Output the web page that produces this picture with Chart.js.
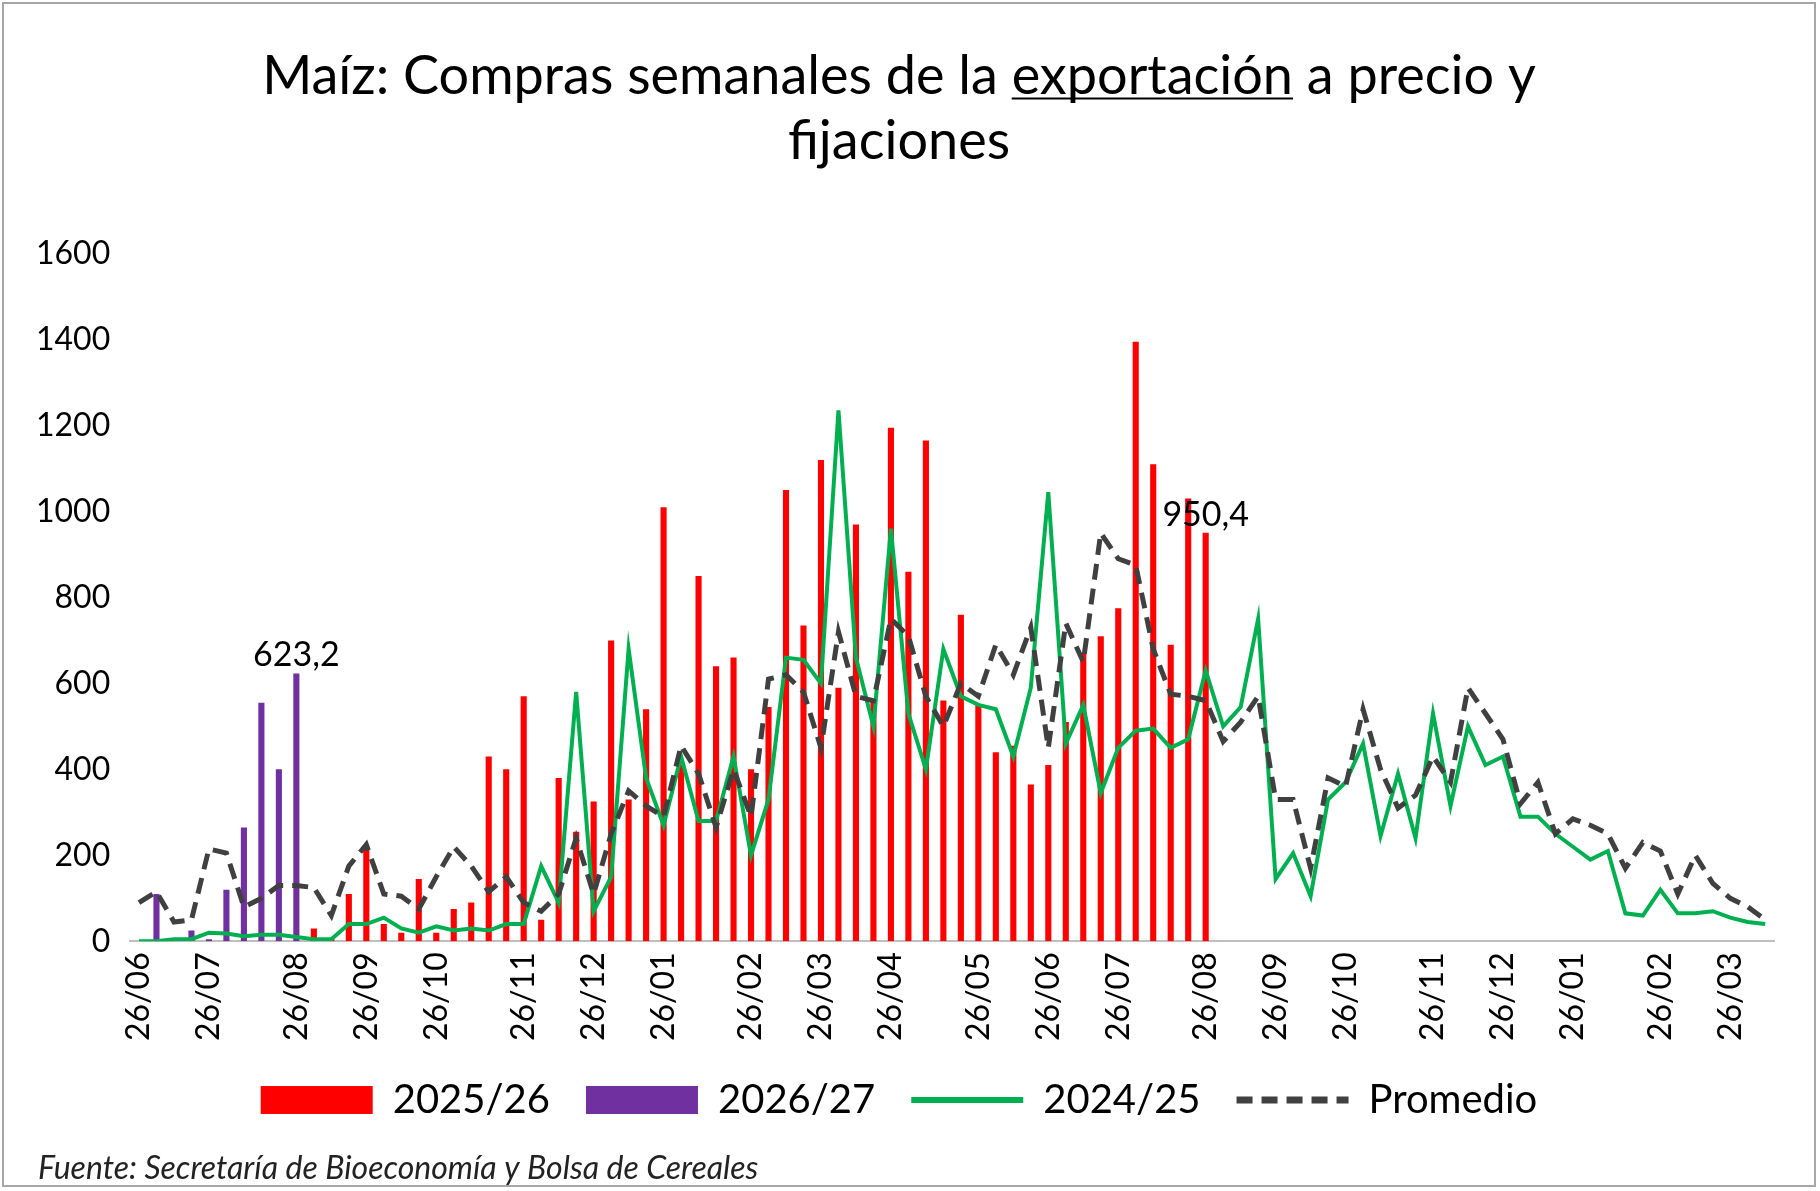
<!DOCTYPE html>
<html><head><meta charset="utf-8">
<script src="https://cdn.jsdelivr.net/npm/chart.js@4/dist/chart.umd.min.js"></script>
<style>
html,body{margin:0;padding:0;background:#fff;}
#wrap{position:absolute;left:2px;top:2px;width:1814px;height:1185px;border:2px solid #a6a6a6;box-sizing:border-box;}
</style></head>
<body>
<div id="wrap"><canvas id="c"></canvas></div>
<script>
// weekly categories, month labels only where Excel showed them
var monthLabels = {0:"26/06",4:"26/07",9:"26/08",13:"26/09",17:"26/10",22:"26/11",26:"26/12",30:"26/01",35:"26/02",39:"26/03",43:"26/04",48:"26/05",52:"26/06",56:"26/07",61:"26/08",65:"26/09",69:"26/10",74:"26/11",78:"26/12",82:"26/01",87:"26/02",91:"26/03"};
var labels = [];
for (var i = 0; i < 94; i++) labels.push(monthLabels[i] || "");

var red2526 = [null,null,null,null,null,null,null,null,null,null,
  30,5,110,220,40,20,145,20,75,90,430,400,570,50,380,255,325,700,330,540,
  1010,410,850,640,660,400,545,1050,735,1120,590,970,560,1195,860,1165,560,760,550,440,
  455,365,410,510,670,710,775,1395,1110,690,1030,950.4];
var purple2627 = [null,110,5,25,5,120,265,555,400,623.2];
var green2425 = [0,0,5,5,20,18,12,15,15,10,5,5,40,40,55,30,20,35,25,30,
  25,40,40,175,90,580,70,150,680,380,270,430,280,280,430,200,330,660,655,600,
  1235,660,500,960,530,400,680,570,550,540,430,590,1045,460,550,345,450,490,495,450,
  470,630,500,545,750,145,205,105,330,370,460,245,390,240,530,315,500,410,430,290,
  290,250,220,190,210,65,60,120,65,65,70,55,45,40];
var promedio = [90,115,45,50,215,205,80,100,130,130,125,60,175,225,110,105,75,150,220,175,
  115,150,90,70,110,240,110,250,350,315,290,455,390,265,400,290,610,620,580,450,
  720,570,560,750,710,570,500,600,570,690,620,730,450,740,650,950,890,875,680,575,
  570,560,465,510,570,330,330,170,380,360,540,400,310,340,430,370,590,530,470,320,
  370,250,285,270,250,170,230,210,110,200,135,100,80,50];

var font = "Lato, 'Noto Sans', sans-serif";

var extras = {
  id: "extras",
  afterDatasetsDraw: function(chart) {
    var ctx = chart.ctx;
    ctx.save();
    ctx.fillStyle = "#000";
    ctx.font = "34px " + font;
    ctx.textAlign = "center";
    var m0 = chart.getDatasetMeta(1).data[9];
    ctx.fillText("623,2", m0.x, m0.y - 18);
    var m1 = chart.getDatasetMeta(0).data[61];
    ctx.fillText("950,4", m1.x, m1.y - 18);
    ctx.restore();
  },
  afterDraw: function(chart) {
    var ctx = chart.ctx;
    ctx.save();
    ctx.fillStyle = "#222";
    ctx.font = "italic 32px " + font;
    ctx.textAlign = "left";
    ctx.fillText("Fuente: Secretaría de Bioeconomía y Bolsa de Cereales", 34, chart.height - 16);
    // underline "exportación" in the title's first line
    var t = chart.titleBlock;
    if (t) {
      ctx.font = "54px " + font;
      var line = "Maíz: Compras semanales de la exportación a precio y";
      var full = ctx.measureText(line).width;
      var pre = ctx.measureText("Maíz: Compras semanales de la ").width;
      var w = ctx.measureText("exportación").width;
      var cx = (t.left + t.right) / 2;
      var x0 = cx - full / 2 + pre;
      var y = t.top + 20 + 54 * 0.75 + 14;
      ctx.strokeStyle = "#000";
      ctx.lineWidth = 2;
      ctx.beginPath(); ctx.moveTo(x0, y); ctx.lineTo(x0 + w, y); ctx.stroke();
    }
    ctx.restore();
  }
};

new Chart(document.getElementById("c"), {
  type: "bar",
  data: {
    labels: labels,
    datasets: [
      { label: "2025/26", data: red2526, backgroundColor: "#ff0000", borderColor: "#ff0000", pointStyle: "rect",
        grouped: false, barPercentage: 0.35, categoryPercentage: 1, order: 3 },
      { label: "2026/27", data: purple2627, backgroundColor: "#7030a0", borderColor: "#7030a0", pointStyle: "rect",
        grouped: false, barPercentage: 0.35, categoryPercentage: 1, order: 4 },
      { type: "line", label: "2024/25", data: green2425, borderColor: "#00b050", backgroundColor: "#00b050",
        pointStyle: "line", borderWidth: 4, pointRadius: 0, tension: 0, order: 2 },
      { type: "line", label: "Promedio", data: promedio, borderColor: "#404040", backgroundColor: "#404040",
        pointStyle: "line", borderWidth: 5, borderDash: [16, 9], pointRadius: 0, tension: 0, order: 1 }
    ]
  },
  options: {
    responsive: true,
    maintainAspectRatio: false,
    animation: false,
    layout: { padding: { left: 20, right: 40, top: 20, bottom: 55 } },
    plugins: {
      title: { display: true, text: ["Maíz: Compras semanales de la exportación a precio y", "fijaciones"],
        color: "#000", font: { family: font, size: 54, weight: "normal" }, lineHeight: 1.5,
        padding: { top: 20, bottom: 80 } },
      legend: { position: "bottom",
        labels: { color: "#000", usePointStyle: true, pointStyleWidth: 112, boxHeight: 28,
          sort: function(a, b) { return a.datasetIndex - b.datasetIndex; },
          generateLabels: function(chart) {
            var items = Chart.defaults.plugins.legend.labels.generateLabels(chart);
            items.forEach(function(it) {
              if (it.datasetIndex === 2) { it.lineWidth = 6; }
              if (it.datasetIndex === 3) { it.lineWidth = 7; it.lineDash = [16, 9]; }
            });
            return items;
          },
          font: { family: font, size: 40 }, padding: 36 } },
      tooltip: { enabled: false }
    },
    scales: {
      x: {
        grid: { display: false },
        border: { color: "#bfbfbf", width: 2 },
        ticks: { autoSkip: false, minRotation: 90, maxRotation: 90, color: "#000",
          font: { family: font, size: 32 } }
      },
      y: {
        min: 0, max: 1600,
        grid: { display: false },
        border: { display: false },
        ticks: { stepSize: 200, color: "#000", font: { family: font, size: 32 }, padding: 12,
          callback: function(v) { return String(v); } }
      }
    }
  },
  plugins: [extras]
});
</script>
</body></html>
